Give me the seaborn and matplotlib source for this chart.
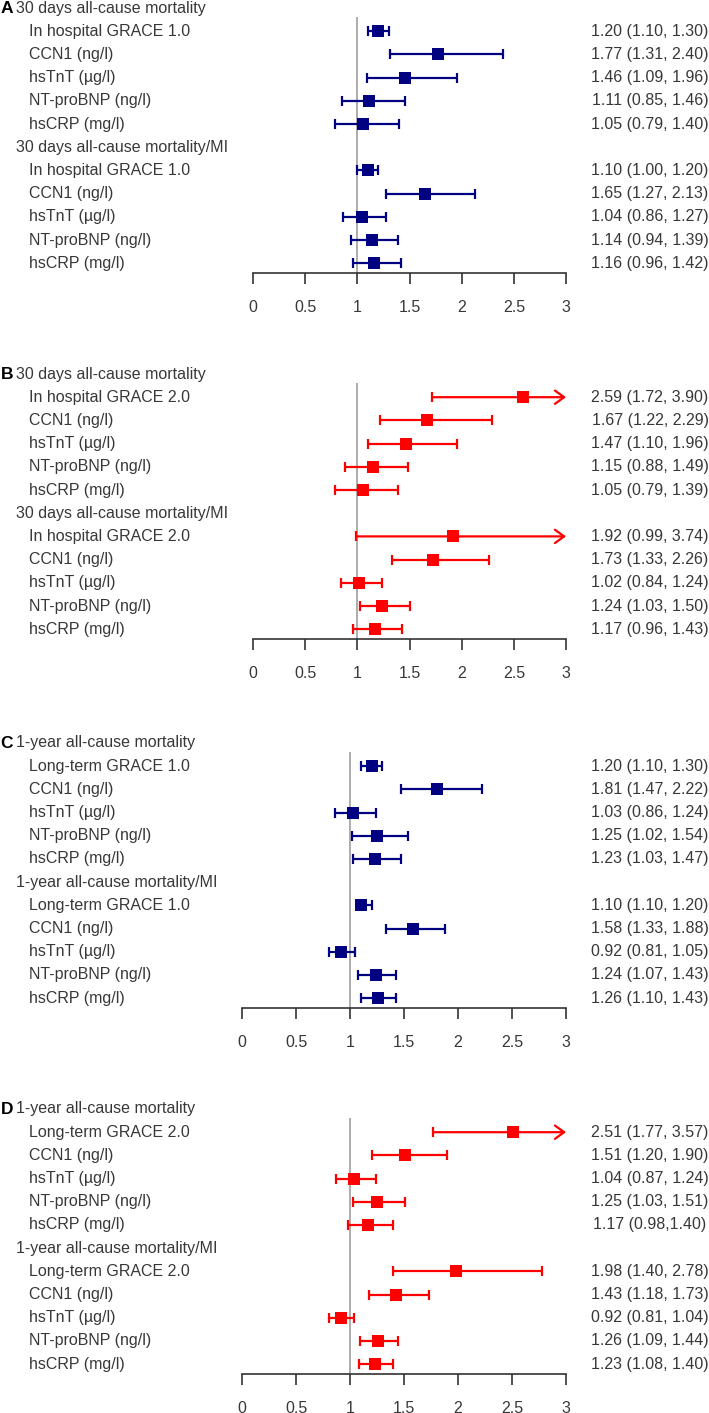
import numpy as np
import pandas as pd
import matplotlib
matplotlib.use("Agg")
import matplotlib.pyplot as plt
import matplotlib.transforms as mtransforms
import seaborn as sns

sns.set_style("white")
plt.rcParams['font.family'] = ['Liberation Sans', 'DejaVu Sans']

# ---------------- data ----------------
panel_letters = ["A", "B", "C", "D"]
headers_30d = ["30 days all-cause mortality", "30 days all-cause mortality/MI"]
headers_1y = ["1-year all-cause mortality", "1-year all-cause mortality/MI"]

labels_A = ["In hospital GRACE 1.0", "CCN1 (ng/l)", "hsTnT (\u00b5g/l)", "NT-proBNP (ng/l)", "hsCRP (mg/l)"]
labels_B = ["In hospital GRACE 2.0", "CCN1 (ng/l)", "hsTnT (\u00b5g/l)", "NT-proBNP (ng/l)", "hsCRP (mg/l)"]
labels_C = ["Long-term GRACE 1.0", "CCN1 (ng/l)", "hsTnT (\u00b5g/l)", "NT-proBNP (ng/l)", "hsCRP (mg/l)"]
labels_D = ["Long-term GRACE 2.0", "CCN1 (ng/l)", "hsTnT (\u00b5g/l)", "NT-proBNP (ng/l)", "hsCRP (mg/l)"]

or_A = [1.20, 1.77, 1.46, 1.11, 1.05, 1.10, 1.65, 1.04, 1.14, 1.16]
lo_A = [1.10, 1.31, 1.09, 0.85, 0.79, 1.00, 1.27, 0.86, 0.94, 0.96]
hi_A = [1.30, 2.40, 1.96, 1.46, 1.40, 1.20, 2.13, 1.27, 1.39, 1.42]

or_B = [2.59, 1.67, 1.47, 1.15, 1.05, 1.92, 1.73, 1.02, 1.24, 1.17]
lo_B = [1.72, 1.22, 1.10, 0.88, 0.79, 0.99, 1.33, 0.84, 1.03, 0.96]
hi_B = [3.90, 2.29, 1.96, 1.49, 1.39, 3.74, 2.26, 1.24, 1.50, 1.43]

or_C = [1.20, 1.81, 1.03, 1.25, 1.23, 1.10, 1.58, 0.92, 1.24, 1.26]
lo_C = [1.10, 1.47, 0.86, 1.02, 1.03, 1.10, 1.33, 0.81, 1.07, 1.10]
hi_C = [1.30, 2.22, 1.24, 1.54, 1.47, 1.20, 1.88, 1.05, 1.43, 1.43]

or_D = [2.51, 1.51, 1.04, 1.25, 1.17, 1.98, 1.43, 0.92, 1.26, 1.23]
lo_D = [1.77, 1.20, 0.87, 1.03, 0.98, 1.40, 1.18, 0.81, 1.09, 1.08]
hi_D = [3.57, 1.90, 1.24, 1.51, 1.40, 2.78, 1.73, 1.04, 1.44, 1.40]

text_A = ["1.20 (1.10, 1.30)", "1.77 (1.31, 2.40)", "1.46 (1.09, 1.96)", "1.11 (0.85, 1.46)", "1.05 (0.79, 1.40)",
          "1.10 (1.00, 1.20)", "1.65 (1.27, 2.13)", "1.04 (0.86, 1.27)", "1.14 (0.94, 1.39)", "1.16 (0.96, 1.42)"]
text_B = ["2.59 (1.72, 3.90)", "1.67 (1.22, 2.29)", "1.47 (1.10, 1.96)", "1.15 (0.88, 1.49)", "1.05 (0.79, 1.39)",
          "1.92 (0.99, 3.74)", "1.73 (1.33, 2.26)", "1.02 (0.84, 1.24)", "1.24 (1.03, 1.50)", "1.17 (0.96, 1.43)"]
text_C = ["1.20 (1.10, 1.30)", "1.81 (1.47, 2.22)", "1.03 (0.86, 1.24)", "1.25 (1.02, 1.54)", "1.23 (1.03, 1.47)",
          "1.10 (1.10, 1.20)", "1.58 (1.33, 1.88)", "0.92 (0.81, 1.05)", "1.24 (1.07, 1.43)", "1.26 (1.10, 1.43)"]
text_D = ["2.51 (1.77, 3.57)", "1.51 (1.20, 1.90)", "1.04 (0.87, 1.24)", "1.25 (1.03, 1.51)", "1.17 (0.98,1.40)",
          "1.98 (1.40, 2.78)", "1.43 (1.18, 1.73)", "0.92 (0.81, 1.04)", "1.26 (1.09, 1.44)", "1.23 (1.08, 1.40)"]

x_ticks = [0, 0.5, 1, 1.5, 2, 2.5, 3]
x_tick_labels = ["0", "0.5", "1", "1.5", "2", "2.5", "3"]

# ---------------- layout ----------------
W, H = 709, 1413
DPI = 100
fig = plt.figure(figsize=(W / DPI, H / DPI), dpi=DPI)

PITCH = 23.2
AXIS_SLOT = 11.43
TOP_SLOT = -0.6
TEXT_COLOR = "#383838"
FS = 11.5

panels = [
    dict(letter="A", y0=8, x0=253, headers=headers_30d, labels=labels_A, o=or_A, lo=lo_A, hi=hi_A, txt=text_A, color="#000080"),
    dict(letter="B", y0=374, x0=253, headers=headers_30d, labels=labels_B, o=or_B, lo=lo_B, hi=hi_B, txt=text_B, color="#ff0000"),
    dict(letter="C", y0=743, x0=242, headers=headers_1y, labels=labels_C, o=or_C, lo=lo_C, hi=hi_C, txt=text_C, color="#000080"),
    dict(letter="D", y0=1109, x0=242, headers=headers_1y, labels=labels_D, o=or_D, lo=lo_D, hi=hi_D, txt=text_D, color="#ff0000"),
]

XMAX = 3.0
x1 = 566

for p in panels:
    top_px = p["y0"] + TOP_SLOT * PITCH
    bot_px = p["y0"] + AXIS_SLOT * PITCH
    ax = fig.add_axes([p["x0"] / W, 1 - bot_px / H, (x1 - p["x0"]) / W, (bot_px - top_px) / H])
    ax.set_xlim(0, XMAX)
    ax.set_ylim(AXIS_SLOT, TOP_SLOT)
    for s in ["top", "left", "right"]:
        ax.spines[s].set_visible(False)
    ax.spines["bottom"].set_color("#333333")
    ax.spines["bottom"].set_linewidth(1.2)
    ax.set_yticks([])
    ax.set_xticks(x_ticks)
    ax.set_xticklabels(x_tick_labels)
    ax.tick_params(axis="x", direction="out", length=8, width=1.2, color="#333333",
                   labelsize=FS, labelcolor=TEXT_COLOR, pad=11, bottom=True)
    ax.patch.set_alpha(0)

    # row slots: header at 0 and 6; items at 1-5 and 7-11
    slots = [1, 2, 3, 4, 5, 7, 8, 9, 10, 11]
    df = pd.DataFrame({"or": p["o"], "lo": p["lo"], "hi": p["hi"], "slot": slots})

    # reference line
    ax.vlines(1, 0.39, AXIS_SLOT, color="#a6a6a6", lw=1.3, zorder=1)

    col = p["color"]
    for _, r in df.iterrows():
        if r["hi"] > XMAX:
            ax.annotate("", xy=(XMAX, r["slot"]), xytext=(r["lo"], r["slot"]),
                        arrowprops=dict(arrowstyle="->,head_length=0.55,head_width=0.4",
                                        color=col, lw=1.6, shrinkA=0, shrinkB=0, mutation_scale=12),
                        annotation_clip=False, zorder=2)
            ax.plot([r["lo"]], [r["slot"]], marker="|", ms=7, mew=1.6, color=col, zorder=2)
        else:
            ax.hlines(r["slot"], r["lo"], r["hi"], color=col, lw=1.6, zorder=2)
            ax.plot([r["lo"], r["hi"]], [r["slot"], r["slot"]], ls="none", marker="|",
                    ms=7, mew=1.6, color=col, zorder=2)

    sns.scatterplot(data=df, x="or", y="slot", marker="s", s=85, color=col,
                    linewidth=0, ax=ax, legend=False, zorder=3)
    ax.set_xlabel("")
    ax.set_ylabel("")

    tr = mtransforms.blended_transform_factory(fig.transFigure, ax.transData)
    # panel letter + headers
    ax.text(0.5 / W, 0, p["letter"], transform=tr, fontsize=FS + 1, fontweight="bold",
            color="black", va="center", ha="left", clip_on=False)
    ax.text(16 / W, 0, p["headers"][0], transform=tr, fontsize=FS, color=TEXT_COLOR,
            va="center", ha="left", clip_on=False)
    ax.text(16 / W, 6, p["headers"][1], transform=tr, fontsize=FS, color=TEXT_COLOR,
            va="center", ha="left", clip_on=False)
    for i, s in enumerate(slots):
        ax.text(29 / W, s, p["labels"][i % 5], transform=tr, fontsize=FS, color=TEXT_COLOR,
                va="center", ha="left", clip_on=False)
        ax.text(650 / W, s, p["txt"][i], transform=tr, fontsize=FS, color=TEXT_COLOR,
                va="center", ha="center", clip_on=False)

fig.savefig("out.png", dpi=DPI, facecolor="white")
